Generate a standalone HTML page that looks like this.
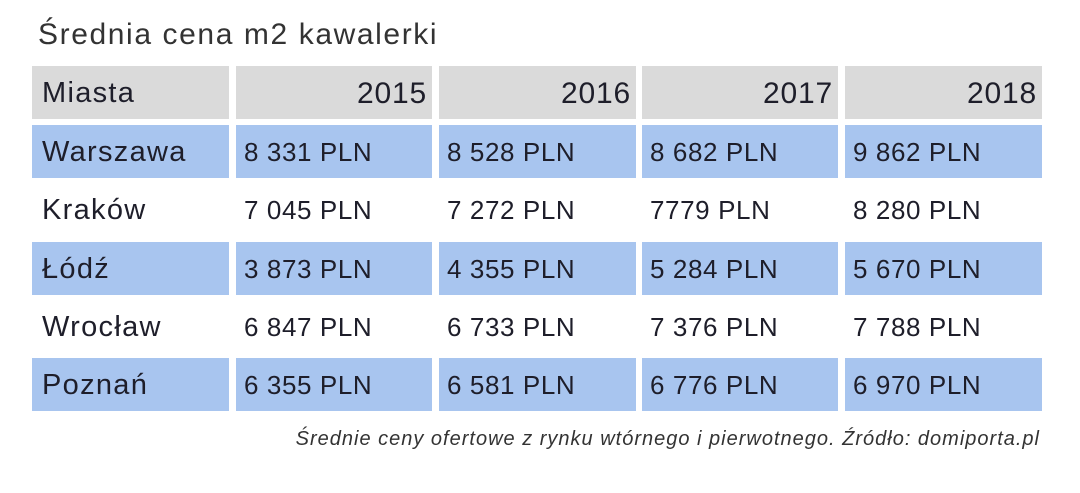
<!DOCTYPE html>
<html><head><meta charset="utf-8"><style>
body{margin:0;width:1080px;height:493px;background:#fff;position:relative;overflow:hidden;font-family:"Liberation Sans","DejaVu Sans",sans-serif;color:#222}
.t{position:absolute;left:38px;top:18px;font-size:30px;letter-spacing:1.6px;color:#333}
.c{position:absolute;height:53px;line-height:55px;font-size:26px;letter-spacing:0.6px;box-sizing:border-box;padding:0 8px;color:#1e1e2a;white-space:nowrap}
.h{background:#dadada;font-size:30px;letter-spacing:0.8px}
.n{font-size:29px;letter-spacing:1.3px;padding-left:10px}
.b{background:#a8c5ef}
.r{text-align:right;padding-right:5px}
.f{position:absolute;right:40px;top:428px;font-size:20px;letter-spacing:1px;font-style:italic;color:#333;white-space:nowrap}
</style></head><body>
<div class="t">Średnia cena m2 kawalerki</div>
<div class="c h n" style="left:32px;top:66px;width:197px">Miasta</div>
<div class="c h r" style="left:236px;top:66px;width:196px">2015</div>
<div class="c h r" style="left:439px;top:66px;width:197px">2016</div>
<div class="c h r" style="left:642px;top:66px;width:196px">2017</div>
<div class="c h r" style="left:845px;top:66px;width:197px">2018</div>

<div class="c b n" style="left:32px;top:125px;width:197px">Warszawa</div>
<div class="c b" style="left:236px;top:125px;width:196px">8 331 PLN</div>
<div class="c b" style="left:439px;top:125px;width:197px">8 528 PLN</div>
<div class="c b" style="left:642px;top:125px;width:196px">8 682 PLN</div>
<div class="c b" style="left:845px;top:125px;width:197px">9 862 PLN</div>

<div class="c n" style="left:32px;top:183px;width:197px">Kraków</div>
<div class="c" style="left:236px;top:183px;width:196px">7 045 PLN</div>
<div class="c" style="left:439px;top:183px;width:197px">7 272 PLN</div>
<div class="c" style="left:642px;top:183px;width:196px">7779 PLN</div>
<div class="c" style="left:845px;top:183px;width:197px">8 280 PLN</div>

<div class="c b n" style="left:32px;top:242px;width:197px">Łódź</div>
<div class="c b" style="left:236px;top:242px;width:196px">3 873 PLN</div>
<div class="c b" style="left:439px;top:242px;width:197px">4 355 PLN</div>
<div class="c b" style="left:642px;top:242px;width:196px">5 284 PLN</div>
<div class="c b" style="left:845px;top:242px;width:197px">5 670 PLN</div>

<div class="c n" style="left:32px;top:300px;width:197px">Wrocław</div>
<div class="c" style="left:236px;top:300px;width:196px">6 847 PLN</div>
<div class="c" style="left:439px;top:300px;width:197px">6 733 PLN</div>
<div class="c" style="left:642px;top:300px;width:196px">7 376 PLN</div>
<div class="c" style="left:845px;top:300px;width:197px">7 788 PLN</div>

<div class="c b n" style="left:32px;top:358px;width:197px">Poznań</div>
<div class="c b" style="left:236px;top:358px;width:196px">6 355 PLN</div>
<div class="c b" style="left:439px;top:358px;width:197px">6 581 PLN</div>
<div class="c b" style="left:642px;top:358px;width:196px">6 776 PLN</div>
<div class="c b" style="left:845px;top:358px;width:197px">6 970 PLN</div>

<div class="f">Średnie ceny ofertowe z rynku wtórnego i pierwotnego. Źródło: domiporta.pl</div>
</body></html>
